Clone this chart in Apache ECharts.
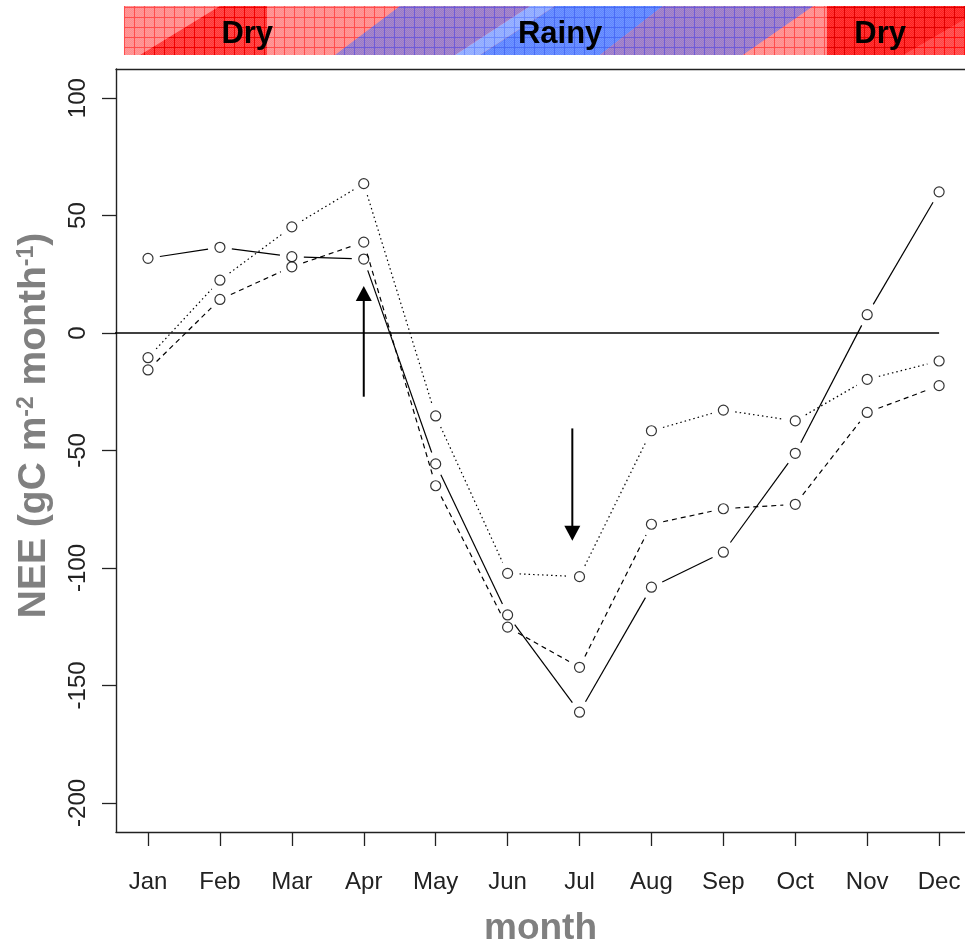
<!DOCTYPE html>
<html>
<head>
<meta charset="utf-8">
<script src="https://cdn.jsdelivr.net/npm/echarts@6/dist/echarts.min.js"></script>
<style>html,body{margin:0;padding:0;background:#fff}#c{width:965px;height:941px}</style>
</head>
<body>
<div id="c"></div>
<script>
// ---- data ----
const months = ['Jan','Feb','Mar','Apr','May','Jun','Jul','Aug','Sep','Oct','Nov','Dec'];
const monthIdx = [1,2,3,4,5,6,7,8,9,10,11,12];
const yTicks = [-200,-150,-100,-50,0,50,100];
const solidNEE  = [31.8, 36.5, 32.5, 31.5, -55.7, -120.0, -161.4, -108.2, -93.3, -51.2, 7.8, 60.1];
const dashedNEE = [-15.7, 14.3, 28.2, 38.7, -65.0, -125.2, -142.3, -81.4, -74.8, -72.9, -33.8, -22.4];
const dottedNEE = [-10.5, 22.5, 45.2, 63.6, -35.3, -102.3, -103.7, -41.6, -32.8, -37.4, -19.7, -11.9];
const zeroLine = [[0, 0], [12, 0]];
const arrowUp = [4, -27.1, 4, 20];
const arrowDown = [6.9, -40.6, 6.9, -88.4];
const seasonLabels = ['Dry', 'Rainy', 'Dry'];
const seasonCenters = [2.38, 6.73, 11.18];

const chart = echarts.init(document.getElementById('c'), null, {renderer: 'canvas'});
const GAP = 12;
const TICKFONT = "'Liberation Sans Narrow', 'Arial Narrow', 'Liberation Sans', Arial, sans-serif";
const BOLDFONT = "'Liberation Sans', Arial, sans-serif";
const X_MIN = 0.555, X_MAX = 12.36;

function segData(vals) {
  const d = [];
  for (let i = 0; i < vals.length - 1; i++) d.push([monthIdx[i], vals[i], monthIdx[i + 1], vals[i + 1]]);
  return d;
}
function segSeries(vals, dash) {
  return {
    type: 'custom', coordinateSystem: 'cartesian2d', data: segData(vals),
    encode: {x: [0, 2], y: [1, 3]}, silent: true, z: 3,
    renderItem: function (params, api) {
      const a = api.coord([api.value(0), api.value(1)]);
      const b = api.coord([api.value(2), api.value(3)]);
      const dx = b[0] - a[0], dy = b[1] - a[1], L = Math.hypot(dx, dy);
      if (L <= 2 * GAP) return null;
      const ux = dx / L, uy = dy / L;
      return {
        type: 'line',
        shape: {x1: a[0] + ux * GAP, y1: a[1] + uy * GAP, x2: b[0] - ux * GAP, y2: b[1] - uy * GAP},
        style: {stroke: '#000', lineWidth: 1.2, lineDash: dash, fill: null}
      };
    }
  };
}
function pointSeries(vals) {
  return {
    type: 'scatter', data: vals.map((v, i) => [monthIdx[i], v]), symbol: 'circle', symbolSize: 10,
    silent: true, z: 4,
    itemStyle: {color: 'rgba(0,0,0,0)', borderColor: '#000', borderWidth: 1.2}
  };
}
function arrowSeries(arrs) {
  return {
    type: 'custom', coordinateSystem: 'cartesian2d', data: arrs, encode: {x: [0, 2], y: [1, 3]},
    silent: true, z: 5,
    renderItem: function (params, api) {
      const t = api.coord([api.value(0), api.value(1)]);
      const h = api.coord([api.value(2), api.value(3)]);
      const dx = h[0] - t[0], dy = h[1] - t[1], L = Math.hypot(dx, dy);
      const ux = dx / L, uy = dy / L, hl = 15, hw = 8;
      const bx = h[0] - ux * hl, by = h[1] - uy * hl;
      return {
        type: 'group',
        children: [
          {type: 'line', shape: {x1: t[0], y1: t[1], x2: bx + ux * 2, y2: by + uy * 2}, style: {stroke: '#000', lineWidth: 2}},
          {type: 'polygon', shape: {points: [[h[0], h[1]], [bx - uy * hw, by + ux * hw], [bx + uy * hw, by - ux * hw]]}, style: {fill: '#000'}}
        ]
      };
    }
  };
}

const frameLine = {show: true, onZero: false, lineStyle: {color: '#222', width: 1.4}};
chart.setOption({
  animation: false,
  backgroundColor: '#fff',
  grid: {left: 116, top: 69, right: 0, bottom: 109, show: false, containLabel: false, outerBoundsMode: 'none'},
  xAxis: [{
    type: 'value', min: X_MIN, max: X_MAX, position: 'bottom',
    splitLine: {show: false}, axisLine: frameLine,
    axisTick: {show: true, customValues: monthIdx, length: 14, lineStyle: {color: '#222', width: 1.3}},
    axisLabel: {customValues: monthIdx, formatter: v => months[Math.round(v) - 1], margin: 38,
      fontSize: 24, fontFamily: TICKFONT, color: '#222'},
    name: 'month', nameLocation: 'middle', nameGap: 78,
    nameTextStyle: {fontSize: 37, fontWeight: 'bold', fontFamily: BOLDFONT, color: '#808080'}
  }, {
    type: 'value', min: X_MIN, max: X_MAX, position: 'top',
    splitLine: {show: false}, axisLine: frameLine,
    axisTick: {show: false}, axisLabel: {show: false}
  }],
  yAxis: {
    type: 'value', min: -212.4, max: 112.4,
    splitLine: {show: false}, axisLine: frameLine,
    axisTick: {show: true, customValues: yTicks, length: 14, lineStyle: {color: '#222', width: 1.3}},
    axisLabel: {customValues: yTicks, rotate: 90, margin: 26, fontSize: 24, fontFamily: TICKFONT, color: '#222'},
    name: 'NEE (gC m{sup|-2} month{sup|-1})', nameLocation: 'middle', nameGap: 62, nameRotate: 90,
    nameTextStyle: {
      fontSize: 39, fontWeight: 'bold', fontFamily: BOLDFONT, color: '#808080', padding: [0, 0, 0, 50],
      rich: {sup: {fontSize: 23, fontWeight: 'bold', fontFamily: BOLDFONT, color: '#808080', verticalAlign: 'top'}}
    }
  },
  series: [
    {type: 'line', data: zeroLine, symbol: 'none', silent: true, z: 2, lineStyle: {color: '#000', width: 1.5}},
    segSeries(solidNEE, null),
    segSeries(dashedNEE, [5, 4]),
    segSeries(dottedNEE, [1.5, 3]),
    pointSeries(solidNEE),
    pointSeries(dashedNEE),
    pointSeries(dottedNEE),
    arrowSeries([arrowUp, arrowDown])
  ]
});

// ---- season band (decorative header) ----
function pat(fill, line) {
  const c = document.createElement('canvas');
  c.width = 10; c.height = 10;
  const g = c.getContext('2d');
  g.fillStyle = fill; g.fillRect(0, 0, 10, 10);
  g.fillStyle = 'rgba(255,255,255,0.12)';
  for (let i = 0; i < 10; i++) for (let j = 0; j < 10; j++) if ((i + j) % 2 === 0) g.fillRect(i, j, 1, 1);
  g.fillStyle = line; g.fillRect(4, 0, 1, 10); g.fillRect(0, 7, 10, 1);
  return {image: c, repeat: 'repeat'};
}
const px = m => chart.convertToPixel({xAxisIndex: 0}, m);
const BT = 6, BB = 55;
// regions: [bottom-left, top-left, top-right, bottom-right] in month units
const bandRegions = [
  {m: [0.666, 0.666, 12.8, 12.8], fill: '#ff8c8c', line: '#ff4d4d'},
  {m: [0.889, 2.0, 2.655, 2.655], fill: '#ff3535', line: '#f00000'},
  {m: [3.60, 4.504, 6.312, 5.269], fill: '#9b7ac6', line: '#6e5bd8'},
  {m: [5.269, 6.312, 6.66, 5.617], fill: '#8faaff', line: '#6f8cff'},
  {m: [5.617, 6.66, 8.164, 7.287], fill: '#5e86ff', line: '#4a6cf5'},
  {m: [7.287, 8.164, 10.25, 9.27], fill: '#9b7ac6', line: '#6e5bd8'},
  {m: [10.44, 10.44, 12.8, 12.8], fill: '#ff1e1e', line: '#e00000'},
  {m: [11.5, 12.67, 12.8, 12.8], fill: '#ff4545', line: '#ff1010'}
];
const graphics = bandRegions.map(r => ({
  type: 'polygon', silent: true, z: 0,
  shape: {points: [[px(r.m[0]), BB], [px(r.m[1]), BT], [px(r.m[2]), BT], [px(r.m[3]), BB]]},
  style: {fill: pat(r.fill, r.line)}
}));
seasonLabels.forEach((s, i) => graphics.push({
  type: 'text', silent: true, z: 10, x: px(seasonCenters[i]), y: 34,
  style: {text: s, fill: '#000', font: "bold 31px 'Liberation Sans', Arial, sans-serif", textAlign: 'center', textVerticalAlign: 'middle'}
}));
chart.setOption({graphic: graphics});
</script>
</body>
</html>
